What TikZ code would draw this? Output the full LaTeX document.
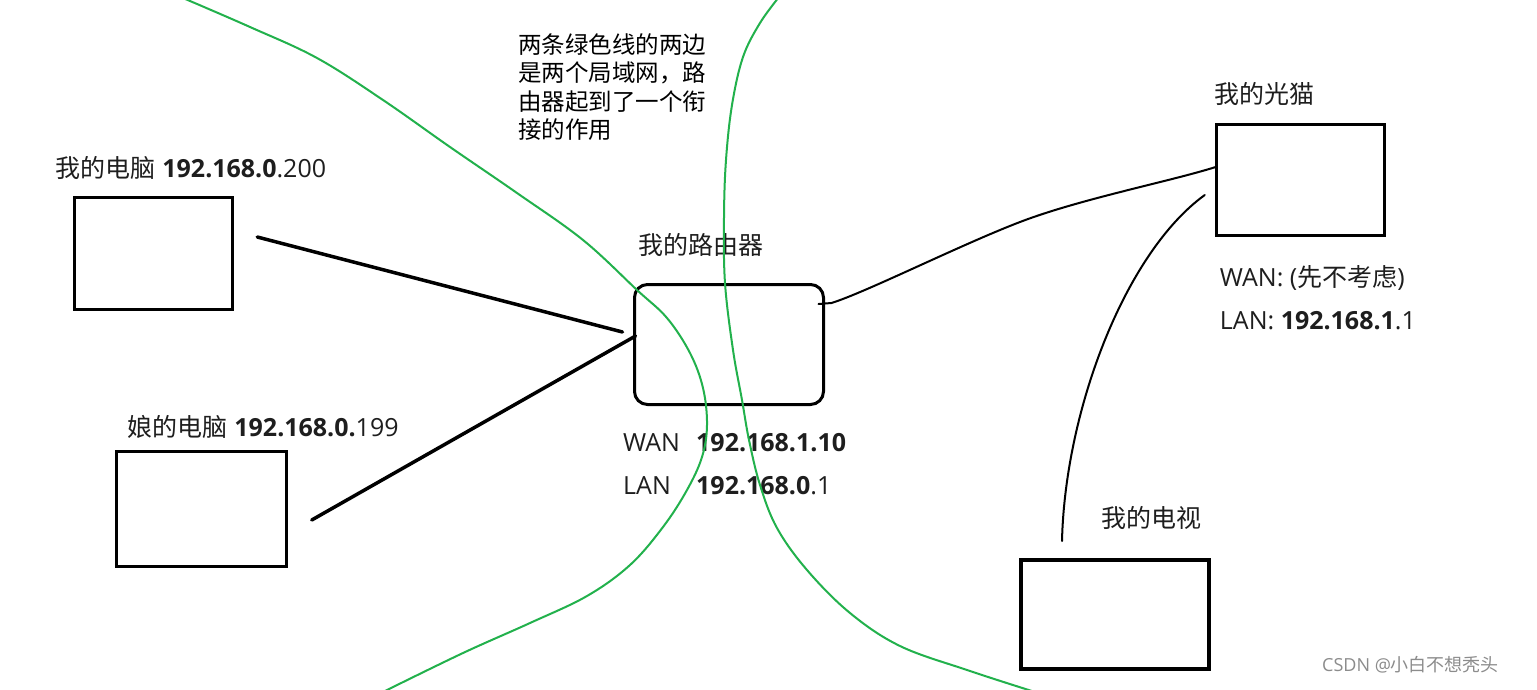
\documentclass[tikz,border=0pt]{standalone}
\usepackage{fontspec}
\setmainfont{Open Sans}
\newfontfamily\cjk{Noto Sans CJK SC}
\usepackage{tikz}
\usetikzlibrary{calc,positioning}
\definecolor{lan}{RGB}{34,177,76}
\definecolor{ink}{RGB}{30,30,30}
\tikzset{
  dev/.style    = {rectangle, draw=black, line width=3.5pt, inner sep=0pt},
  rtr/.style    = {dev, rounded corners=13pt, line width=3pt},
  lbl/.style    = {anchor=west, inner sep=0pt, text=ink,
                   font=\fontsize{25}{30}\selectfont},
  memo/.style   = {lbl, text=black, align=left,
                   font=\fontsize{23.5}{28.5}\selectfont\cjk},
  wire/.style   = {line width=3.5pt, line cap=round},
  cable/.style  = {line width=2pt, line cap=round},
  border/.style = {draw=lan, line width=2pt},
}

\begin{document}
\begin{tikzpicture}[x=1pt, y=-1pt]
    \path[fill=white] (0,0) rectangle (1537,689);
    \useasboundingbox (0,0) rectangle (1537,689);
    % devices
    \node[dev, minimum width=158pt, minimum height=112pt] (pc1) at (153.5,253.5) {};
    \node[dev, minimum width=170pt, minimum height=115pt] (pc2) at (201.5,509) {};
    \node[rtr, minimum width=189pt, minimum height=120pt] (rt) at (729,344.5) {};
    \node[dev, minimum width=168pt, minimum height=111pt] (modem) at (1300.5,180) {};
    \node[dev, minimum width=188pt, minimum height=109pt, line width=4pt] (tv) at (1115,614.5) {};
    % labels
    \node[lbl] (pc1lbl) at ($(pc1.north west)+(-17,-28)$) {{\cjk 我的电脑} \textbf{192.168.0}.200};
    \node[lbl] (pc2lbl) at ($(pc2.north west)+(13,-23)$) {{\cjk 娘的电脑} \textbf{192.168.0.}199};
    \node[lbl] (rtlbl) at ($(rt.north west)+(5,-38)$) {\cjk 我的路由器};
    \node[lbl] (rtwan) at ($(rt.south west)+(-10,37)$) {\makebox[73pt][l]{WAN}\textbf{192.168.1.10}};
    \node[lbl] (rtlan) at ($(rt.south west)+(-10,80)$) {\makebox[73pt][l]{LAN}\textbf{192.168.0}.1};
    \node[lbl] (mdlbl) at ($(modem.north west)+(0,-29)$) {\cjk 我的光猫};
    \node[lbl] (mdwan) at ($(modem.south west)+(5,41)$) {WAN: ({\cjk 先不考虑})};
    \node[lbl] (mdlan) at ($(modem.south west)+(5,83)$) {LAN: \textbf{192.168.1}.1};
    \node[lbl] (tvlbl) at ($(tv.north west)+(82,-40)$) {\cjk 我的电视};
    \node[memo] (note) at (518,87) {两条绿色线的两边\\是两个局域网，路\\由器起到了一个衔\\接的作用};
    \node[lbl, text=black!45, font=\fontsize{18}{20}\selectfont] (mark) at (1322,665) {CSDN @{\cjk 小白不想秃头}};
    % the two LAN borders
    \draw[border] plot[smooth, tension=0.6] coordinates {(183,-2) (250,27) (317,58) (383,100)
      (450,147) (517,193) (583,240) (637,290) (667,318) (690,353) (703,388) (707,425)
      (702,457) (687,490) (663,527) (630,565) (587,596) (530,623) (463,653) (385,691)};
    \draw[border] plot[smooth, tension=0.6] coordinates {(779,-3) (760,23) (743,57) (732,105)
      (726,160) (724,217) (725,283) (733,350) (742,400) (749,440) (760,485) (777,528)
      (807,570) (850,613) (900,646) (967,670) (1035,692)};
    % cables
    \coordinate (pc1p) at ($(pc1.east)+(23,-16.5)$);
    \coordinate (pc2p) at ($(pc2.east)+(23.5,11)$);
    \coordinate (rtp1) at ($(rt.west)+(-10.5,-12.5)$);
    \coordinate (rtp2) at ($(rt.west)+(2.5,-8.5)$);
    \coordinate (rtp3) at ($(rt.east)+(-6.5,-40.5)$);
    \coordinate (mdp1) at ($(modem.west)+(1,-13)$);
    \coordinate (mdp2) at ($(modem.west)+(-10,15)$);
    \coordinate (tvp) at ($(tv.north)+(-53,-17)$);
    \draw[wire] (pc1p) -- (rtp1);
    \draw[wire] (pc2p) -- (rtp2);
    \draw[cable] (rtp3) -- ++(13,-1) .. controls +(35,-11) and +(-60,23) .. (1020,222)
      .. controls +(60,-23) and +(-48,15) .. (mdp1);
    \draw[cable] (tvp) .. controls +(3,-130) and +(-80,58) .. (mdp2);
\end{tikzpicture}
\end{document}
